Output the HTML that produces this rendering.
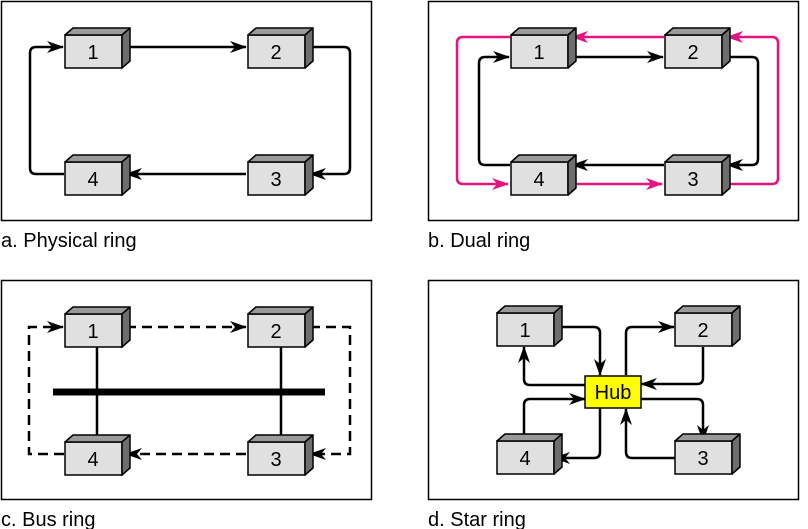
<!DOCTYPE html>
<html><head><meta charset="utf-8"><style>
html,body{margin:0;padding:0;background:#fff}
svg{display:block}
text{font-family:"Liberation Sans",sans-serif}
</style></head><body>
<svg width="808" height="529" viewBox="0 0 808 529" xmlns="http://www.w3.org/2000/svg">
<defs>
<g id="bx">
<rect x="0" y="0" width="57" height="33" fill="#e0e0e0" stroke="#000" stroke-width="1.5"/>
<polygon points="0,0 8,-7 65,-7 57,0" fill="#9a9a9a" stroke="#000" stroke-width="1.5" stroke-linejoin="round"/>
<polygon points="57,0 65,-7 65,26 57,33" fill="#6e6e6e" stroke="#000" stroke-width="1.5" stroke-linejoin="round"/>
</g>
<marker id="ak" markerUnits="userSpaceOnUse" markerWidth="18" markerHeight="12" refX="16" refY="6" orient="auto"><path d="M0,0 L17,6 L0,12 L5,6 z" fill="#000"/></marker>
<marker id="ap" markerUnits="userSpaceOnUse" markerWidth="18" markerHeight="12" refX="16" refY="6" orient="auto"><path d="M0,0 L17,6 L0,12 L5,6 z" fill="#e4147c"/></marker>
</defs>
<g fill="none" stroke="#000" stroke-width="1.5">
<rect x="1.5" y="1.5" width="370" height="219"/>
<rect x="428.5" y="1.5" width="370" height="219"/>
<rect x="1.5" y="280.5" width="370" height="219"/>
<rect x="428.5" y="280.5" width="370" height="219"/>
</g>
<!-- a -->
<g fill="none" stroke="#000" stroke-width="2.5" stroke-linejoin="round">
<path d="M126,47 H246" marker-end="url(#ak)"/>
<path d="M310,47 H344 Q350,47 350,53 V168 Q350,174 344,174 H310" marker-end="url(#ak)"/>
<path d="M246,174 H126" marker-end="url(#ak)"/>
<path d="M64,174 H36 Q30,174 30,168 V53 Q30,47 36,47 H63" marker-end="url(#ak)"/>
</g>
<use href="#bx" x="65" y="35"/><use href="#bx" x="248" y="35"/>
<use href="#bx" x="65" y="162"/><use href="#bx" x="248" y="162"/>
<g font-size="20" text-anchor="middle">
<text x="93" y="59">1</text><text x="276" y="59">2</text>
<text x="93" y="186">4</text><text x="276" y="186">3</text>
</g>
<!-- b -->
<g fill="none" stroke="#e4147c" stroke-width="2.5" stroke-linejoin="round">
<path d="M664,37 H572" marker-end="url(#ap)"/>
<path d="M726,184 H772 Q778,184 778,178 V43 Q778,37 772,37 H727" marker-end="url(#ap)"/>
<path d="M572,184 H662" marker-end="url(#ap)"/>
<path d="M510,37 H463 Q457,37 457,43 V178 Q457,184 463,184 H508" marker-end="url(#ap)"/>
</g>
<g fill="none" stroke="#000" stroke-width="2.5" stroke-linejoin="round">
<path d="M572,57 H663" marker-end="url(#ak)"/>
<path d="M726,57 H752 Q758,57 758,63 V159 Q758,165 752,165 H727" marker-end="url(#ak)"/>
<path d="M664,165 H572" marker-end="url(#ak)"/>
<path d="M510,165 H485 Q479,165 479,159 V63 Q479,57 485,57 H509" marker-end="url(#ak)"/>
</g>
<use href="#bx" x="511" y="35"/><use href="#bx" x="665" y="35"/>
<use href="#bx" x="511" y="162"/><use href="#bx" x="665" y="162"/>
<g font-size="20" text-anchor="middle">
<text x="539" y="59">1</text><text x="693" y="59">2</text>
<text x="539" y="186">4</text><text x="693" y="186">3</text>
</g>
<!-- c -->
<g fill="none" stroke="#000" stroke-width="2.5">
<path d="M97,347 V442"/><path d="M281,347 V442"/>
<path d="M53,392 H325" stroke-width="7"/>
</g>
<g fill="none" stroke="#000" stroke-width="2.5" stroke-dasharray="10,6">
<path d="M126,327 H246" marker-end="url(#ak)"/>
<path d="M310,327 H350 V454 H310" marker-end="url(#ak)"/>
<path d="M246,454 H126" marker-end="url(#ak)"/>
<path d="M64,454 H29 V327 H63" marker-end="url(#ak)"/>
</g>
<use href="#bx" x="65" y="314"/><use href="#bx" x="248" y="314"/>
<use href="#bx" x="65" y="442"/><use href="#bx" x="248" y="442"/>
<g font-size="20" text-anchor="middle">
<text x="93" y="338">1</text><text x="276" y="338">2</text>
<text x="93" y="466">4</text><text x="276" y="466">3</text>
</g>
<!-- d -->
<g fill="none" stroke="#000" stroke-width="2.5" stroke-linejoin="round">
<path d="M556,327 H594 Q600,327 600,333 V375" marker-end="url(#ak)"/>
<path d="M585,385 H530 Q524,385 524,379 V347" marker-end="url(#ak)"/>
<path d="M626,375 V333 Q626,327 632,327 H674" marker-end="url(#ak)"/>
<path d="M703,347 V378 Q703,384 697,384 H641" marker-end="url(#ak)"/>
<path d="M641,399 H697 Q703,399 703,405 V441" marker-end="url(#ak)"/>
<path d="M675,458 H632 Q626,458 626,452 V409" marker-end="url(#ak)"/>
<path d="M524,442 V405 Q524,399 530,399 H585" marker-end="url(#ak)"/>
<path d="M600,408 V452 Q600,458 594,458 H554" marker-end="url(#ak)"/>
</g>
<use href="#bx" x="497" y="313"/><use href="#bx" x="675" y="313"/>
<use href="#bx" x="497" y="441"/><use href="#bx" x="675" y="441"/>
<rect x="585" y="376" width="56" height="32" fill="#ffff00" stroke="#000" stroke-width="1.5"/>
<g font-size="20" text-anchor="middle">
<text x="525" y="337">1</text><text x="703" y="337">2</text>
<text x="525" y="465">4</text><text x="703" y="465">3</text>
<text x="613" y="399">Hub</text>
</g>
<!-- labels -->
<g font-size="20">
<text x="1" y="247">a. Physical ring</text>
<text x="428" y="247">b. Dual ring</text>
<text x="1" y="526">c. Bus ring</text>
<text x="428" y="526">d. Star ring</text>
</g>
</svg>
</body></html>
